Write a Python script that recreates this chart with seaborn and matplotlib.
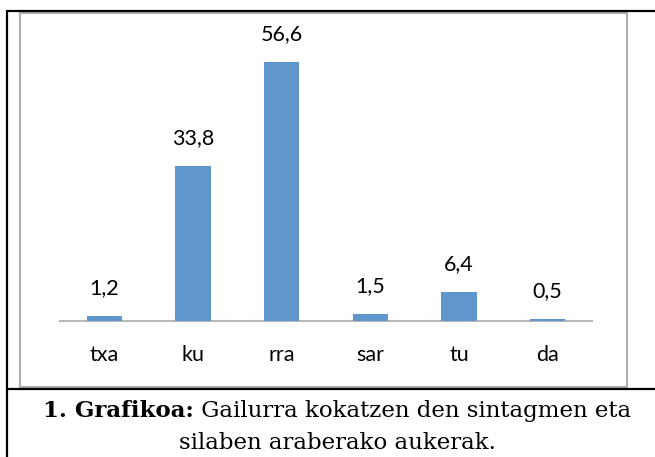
import matplotlib
matplotlib.use('Agg')
import matplotlib.pyplot as plt
import seaborn as sns
from matplotlib.lines import Line2D
from matplotlib.patches import Rectangle

# chart data
categories = ['txa', 'ku', 'rra', 'sar', 'tu', 'da']
values = [1.2, 33.8, 56.6, 1.5, 6.4, 0.5]
caption_bold = '1. Grafikoa:'
caption_rest = ' Gailurra kokatzen den sintagmen eta'
caption_line2 = 'silaben araberako aukerak.'

sns.set_style('white')
plt.rcParams['font.family'] = ['Lato', 'DejaVu Sans']
plt.rcParams['text.color'] = 'black'

W, H = 655, 457
fig = plt.figure(figsize=(W / 100, H / 100), dpi=100)

# helper to convert pixel coords (from top-left) to figure fraction
def fx(px):
    return px / W

def fy(py):
    return 1 - py / H

# axes area: x from 60 to 592 px, baseline at 321 px, top at 20 px
ax = fig.add_axes([fx(60), fy(321), fx(592) - fx(60), (321 - 20) / H])
sns.barplot(x=categories, y=values, color='#5F96CC', saturation=1, width=0.4,
            linewidth=0, ax=ax, zorder=3)
ax.set_xlim(-0.5, len(categories) - 0.5)
ax.set_ylim(0, 65.7)
ax.set_yticks([])
ax.set_xlabel('')
ax.set_ylabel('')
for s in ['top', 'left', 'right']:
    ax.spines[s].set_visible(False)
ax.spines['bottom'].set_color('#B8B8B8')
ax.spines['bottom'].set_linewidth(1.5)
ax.spines['bottom'].set_zorder(0.5)
ax.tick_params(axis='x', length=0, pad=17, labelsize=15.5, colors='black')
ax.patch.set_alpha(0)

for i, v in enumerate(values):
    ax.annotate(f'{v:.1f}'.replace('.', ','), (i, v), xytext=(0, 20),
                textcoords='offset points', ha='center', va='center',
                fontsize=15.5, color='black')

# gray chart frame
fig.add_artist(Rectangle((fx(20), fy(387)), fx(627) - fx(20), fy(13) - fy(387),
                         transform=fig.transFigure, fill=False, edgecolor='#A6A6A6', linewidth=1.3))

# black table lines
lw = 1.6
fig.add_artist(Line2D([fx(7), 1], [fy(11), fy(11)], color='black', linewidth=lw, transform=fig.transFigure))
fig.add_artist(Line2D([fx(7), 1], [fy(389), fy(389)], color='black', linewidth=lw, transform=fig.transFigure))
fig.add_artist(Line2D([fx(7), fx(7)], [fy(11), 0], color='black', linewidth=lw, transform=fig.transFigure))

# caption, bold part + regular part centered together
cap_font = ['DejaVu Serif']
cap_size = 16.5
t1 = fig.text(0, fy(411), caption_bold, fontweight='bold', family=cap_font, fontsize=cap_size, va='center')
t2 = fig.text(0, fy(411), caption_rest, family=cap_font, fontsize=cap_size, va='center')
fig.canvas.draw()
r = fig.canvas.get_renderer()
w1 = t1.get_window_extent(r).width
w2 = t2.get_window_extent(r).width
start = (fx(337) * W - (w1 + w2) / 2) / W
t1.set_x(start)
t2.set_x(start + w1 / W)
fig.text(fx(337), fy(443), caption_line2, family=cap_font, fontsize=cap_size, ha='center', va='center')

fig.savefig('out.png', dpi=100)
